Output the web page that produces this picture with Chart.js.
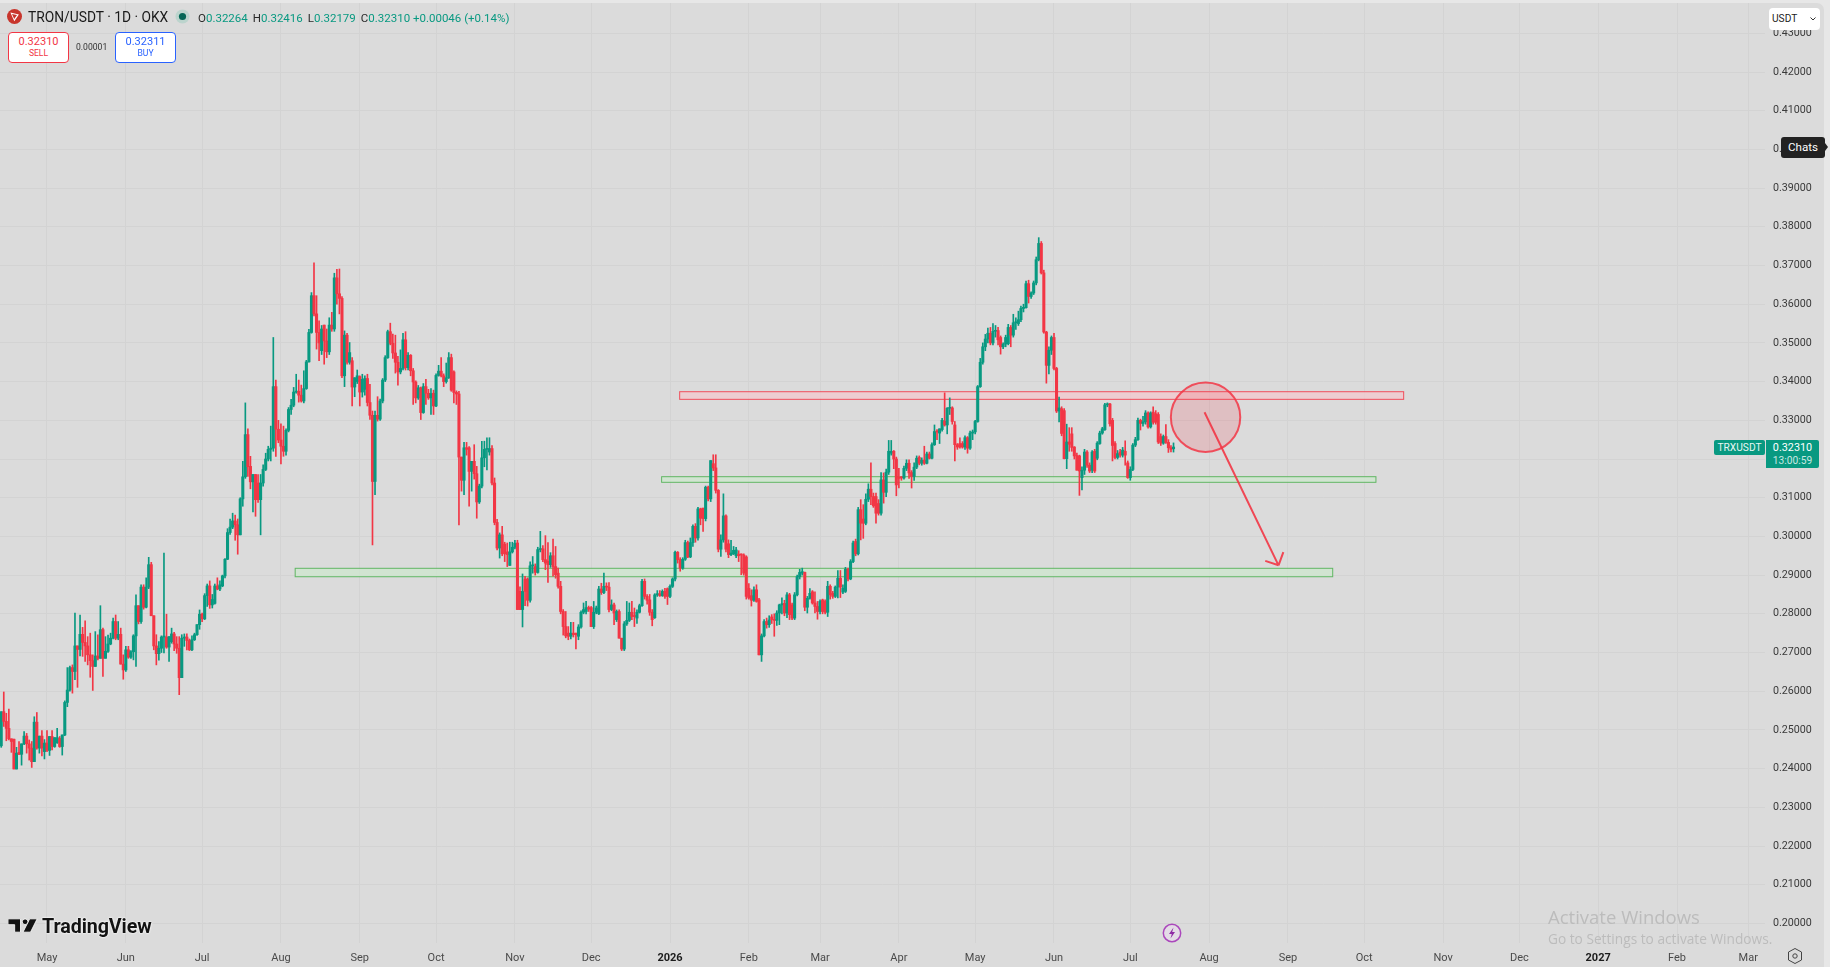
<!DOCTYPE html>
<html>
<head>
<meta charset="utf-8">
<title>TRON/USDT 1D</title>
<script src="https://cdn.jsdelivr.net/npm/chart.js@4"></script>
<style>
  html, body { margin:0; padding:0; width:1830px; height:967px; overflow:hidden; background:#e7e7e7; font-family:Roboto, sans-serif; }
  #pane { position:absolute; left:0; top:3px; width:1824px; height:964px; background:#dbdbdb; border-top-right-radius:7px; }
  #chart { position:absolute; left:0; top:0; }
  .abs { position:absolute; white-space:nowrap; }
  #title { left:28px; top:9px; font-size:13.8px; line-height:17px; color:#1a1a1a; }
  #ohlc { left:198px; top:10px; font-size:11.5px; line-height:16px; color:#089981; }
  #ohlc b { font-weight:400; color:#2a2a2a; margin-left:5px; }
  #ohlc b:first-child { margin-left:0; }
  .trade { width:59px; height:29px; top:32px; background:#fff; border-radius:4px; text-align:center; border:1px solid; box-sizing:content-box; }
  .trade span { display:block; }
  .trade .px { font-size:11px; line-height:13px; margin-top:2px; }
  .trade .lb { font-size:8.6px; line-height:11px; }
  #sell { left:8px; border-color:#f23645; color:#f23645; }
  #buy { left:115px; border-color:#2962ff; color:#2962ff; }
  #spread { left:76px; top:41px; font-size:8.6px; line-height:12px; color:#333; }
  #usdt { left:1769px; top:8px; width:51px; height:22px; background:#fff; border-radius:4px; font-size:10.2px; line-height:22px; color:#222; text-indent:3px; }
  #chats { left:1781px; top:137px; width:44px; height:21px; background:#222; border-radius:3px; color:#fff; font-size:11.6px; line-height:21px; text-align:center; }
  #chats i { position:absolute; left:44px; top:6px; border-left:3px solid #222; border-top:4px solid transparent; border-bottom:4px solid transparent; }
  #sym { left:1714px; top:440px; width:51px; height:15px; background:#089981; border-radius:2px; color:#e8f6f3; font-size:10.2px; line-height:15px; text-align:center; }
  #last { left:1766px; top:440px; width:53px; height:28px; background:#089981; border-radius:0 2px 2px 0; color:#fff; text-align:center; }
  #last span { display:block; }
  #last .p { font-size:10.8px; line-height:14px; margin-top:1px; }
  #last .t { font-size:10.2px; line-height:12px; color:#c9e8e1; }
  #brand { left:42px; top:916px; font-size:19.7px; line-height:22px; font-weight:700; color:#131313; letter-spacing:-.1px; text-shadow:0 0 2px #fff, 0 0 2px #fff; }
  #win1 { left:1548px; top:905px; font-size:18.5px; line-height:23px; color:#bcbcbc; font-family:"Open Sans", sans-serif; }
  #win2 { left:1548px; top:930px; font-size:13.7px; line-height:18px; color:#bcbcbc; font-family:"Open Sans", sans-serif; }
</style>
</head>
<body>
<div id="pane"></div>
<canvas id="chart" width="1830" height="967"></canvas>

<svg class="abs" style="left:7px;top:9px" width="15" height="15" viewBox="0 0 15 15">
  <circle cx="7.5" cy="7.5" r="7.5" fill="#c8352c"/>
  <path d="M3.4 3.6 L11.9 5.4 L7.3 12.2 Z M5 5 L7.2 9.9 L10 5.9 Z" fill="#fff" fill-rule="evenodd"/>
</svg>
<div class="abs" id="title">TRON/USDT · 1D · OKX</div>
<svg class="abs" style="left:175px;top:9px" width="15" height="15" viewBox="0 0 15 15">
  <circle cx="7.5" cy="7.5" r="7" fill="#bcd4cd"/>
  <circle cx="7.5" cy="7.5" r="3.6" fill="#056656"/>
</svg>
<div class="abs" id="ohlc"></div>
<div class="abs trade" id="sell"><span class="px" id="sellPx"></span><span class="lb">SELL</span></div>
<div class="abs" id="spread">0.00001</div>
<div class="abs trade" id="buy"><span class="px">0.32311</span><span class="lb">BUY</span></div>

<div class="abs" id="usdt">USDT
  <svg style="position:absolute;left:41px;top:9px" width="6" height="4" viewBox="0 0 6 4"><path d="M.5 .5 L3 3 L5.5 .5" fill="none" stroke="#333"/></svg>
</div>
<div class="abs" id="chats">Chats<i></i></div>
<div class="abs" id="sym">TRXUSDT</div>
<div class="abs" id="last"><span class="p" id="lastPx"></span><span class="t">13:00:59</span></div>

<svg class="abs" style="left:8px;top:917px" width="30" height="17" viewBox="0 0 36 20">
  <path d="M0 2 H15 V18 H8 V9 H0 Z M26 2 H35 L27 18 H18 Z" fill="#131313" stroke="#fff" stroke-width="1"/>
  <circle cx="20.5" cy="5.5" r="3.4" fill="#131313" stroke="#fff" stroke-width="1"/>
</svg>
<div class="abs" id="brand">TradingView</div>

<svg class="abs" style="left:1162px;top:923px" width="20" height="20" viewBox="0 0 20 20">
  <circle cx="10" cy="10" r="8.7" fill="#e4dbe6" stroke="#ab47bc" stroke-width="1.5"/>
  <path d="M11.5 4.5 L7 11 H9.8 L8.5 15.5 L13 9 H10.2 Z" fill="#8e2aa5"/>
</svg>
<svg class="abs" style="left:1787px;top:947px" width="16" height="18" viewBox="0 0 16 18">
  <path d="M8 1.5 L14.5 5 V13 L8 16.5 L1.5 13 V5 Z" fill="none" stroke="#444" stroke-width="1"/>
  <circle cx="8" cy="9" r="2.2" fill="none" stroke="#444"/>
</svg>
<div class="abs" id="win1">Activate Windows</div>
<div class="abs" id="win2">Go to Settings to activate Windows.</div>

<script>
// Daily candles, first one sits 18 days before the May 2025 tick
const firstDay = -18;

const opens = [
  .2459,.2547,.2522,.2504,.2477,.2476,.2399,.2442,.2437,.2464,
  .2484,.2464,.2453,.2418,.2520,.2453,.2484,.2444,.2466,.2447,
  .2483,.2457,.2467,.2478,.2457,.2487,.2571,.2603,.2661,.2651,
  .2717,.2708,.2747,.2726,.2717,.2694,.2679,.2664,.2691,.2685,
  .2759,.2685,.2703,.2722,.2737,.2780,.2737,.2747,.2670,.2655,
  .2707,.2688,.2702,.2743,.2821,.2780,.2869,.2817,.2869,.2927,
  .2795,.2717,.2697,.2711,.2740,.2740,.2714,.2728,.2748,.2722,
  .2711,.2635,.2737,.2740,.2731,.2707,.2733,.2746,.2772,.2799,
  .2787,.2847,.2872,.2823,.2827,.2872,.2864,.2872,.2898,.2941,
  .3010,.3024,.3040,.3030,.3004,.3097,.3154,.3263,.3181,.3141,
  .3160,.3138,.3095,.3138,.3173,.3200,.3225,.3228,.3387,.3277,
  .3249,.3233,.3220,.3274,.3328,.3339,.3373,.3375,.3365,.3350,
  .3382,.3451,.3527,.3622,.3575,.3527,.3480,.3546,.3505,.3477,
  .3546,.3536,.3668,.3627,.3615,.3415,.3520,.3450,.3454,.3386,
  .3400,.3413,.3373,.3380,.3408,.3346,.3313,.3142,.3313,.3303,
  .3350,.3404,.3462,.3529,.3499,.3474,.3450,.3425,.3434,.3508,
  .3436,.3468,.3428,.3399,.3358,.3384,.3320,.3387,.3370,.3358,
  .3370,.3337,.3416,.3427,.3415,.3400,.3410,.3462,.3425,.3372,
  .3368,.3205,.3145,.3229,.3229,.3168,.3194,.3162,.3089,.3130,
  .3203,.3225,.3218,.3227,.3138,.3036,.2970,.3004,.2980,.2960,
  .2925,.2960,.2972,.2983,.2858,.2811,.2890,.2890,.2835,.2924,
  .2922,.2907,.2966,.2968,.2940,.2936,.2927,.2950,.2922,.2905,
  .2871,.2806,.2767,.2750,.2742,.2750,.2750,.2742,.2766,.2804,
  .2806,.2816,.2816,.2767,.2804,.2800,.2864,.2855,.2871,.2869,
  .2811,.2823,.2785,.2806,.2737,.2709,.2774,.2783,.2804,.2795,
  .2789,.2804,.2821,.2884,.2845,.2836,.2804,.2790,.2849,.2852,
  .2847,.2858,.2865,.2845,.2871,.2890,.2959,.2940,.2918,.2941,
  .2984,.2947,.2984,.3026,.2996,.3071,.3073,.3046,.3127,.3097,
  .3188,.3177,.3119,.2967,.2991,.3053,.2981,.2953,.2955,.2950,
  .2954,.2953,.2952,.2947,.2866,.2847,.2835,.2862,.2836,.2694,
  .2743,.2780,.2772,.2792,.2785,.2783,.2802,.2823,.2827,.2802,
  .2849,.2823,.2789,.2849,.2896,.2905,.2907,.2817,.2840,.2857,
  .2828,.2819,.2806,.2836,.2832,.2804,.2871,.2853,.2845,.2869,
  .2892,.2856,.2858,.2915,.2890,.2935,.2987,.2955,.3069,.3045,
  .3034,.3096,.3122,.3103,.3103,.3085,.3060,.3146,.3114,.3166,
  .3215,.3220,.3200,.3153,.3153,.3151,.3176,.3189,.3165,.3155,
  .3179,.3204,.3189,.3197,.3189,.3213,.3202,.3237,.3271,.3267,
  .3276,.3298,.3288,.3331,.3332,.3288,.3237,.3240,.3240,.3231,
  .3255,.3228,.3267,.3270,.3297,.3387,.3450,.3490,.3510,.3525,
  .3500,.3530,.3532,.3514,.3490,.3497,.3498,.3540,.3520,.3552,
  .3550,.3560,.3589,.3591,.3653,.3620,.3629,.3655,.3715,.3757,
  .3681,.3528,.3442,.3481,.3514,.3434,.3324,.3330,.3325,.3201,
  .3244,.3265,.3231,.3209,.3208,.3152,.3171,.3218,.3184,.3171,
  .3220,.3202,.3240,.3267,.3276,.3340,.3342,.3300,.3240,.3204,
  .3218,.3210,.3220,.3190,.3152,.3173,.3236,.3250,.3300,.3292,
  .3296,.3319,.3283,.3321,.3317,.3315,.3258,.3241,.3258,.3243,
  .3229,.32264
];

const highs = [
  .2547,.2598,.2543,.2554,.2477,.2476,.2455,.2470,.2464,.2496,
  .2491,.2474,.2470,.2534,.2545,.2484,.2498,.2475,.2498,.2483,
  .2498,.2480,.2504,.2483,.2487,.2575,.2661,.2665,.2668,.2802,
  .2717,.2797,.2765,.2782,.2741,.2750,.2694,.2754,.2746,.2821,
  .2763,.2741,.2745,.2750,.2789,.2797,.2780,.2763,.2694,.2716,
  .2716,.2705,.2746,.2849,.2821,.2875,.2875,.2893,.2946,.2933,
  .2795,.2746,.2728,.2743,.2957,.2799,.2741,.2763,.2752,.2741,
  .2741,.2746,.2748,.2748,.2735,.2743,.2750,.2772,.2810,.2802,
  .2852,.2877,.2885,.2850,.2877,.2893,.2885,.2900,.2943,.3020,
  .3045,.3060,.3055,.3045,.3100,.3194,.3345,.3278,.3207,.3160,
  .3160,.3160,.3160,.3185,.3215,.3233,.3285,.3514,.3404,.3300,
  .3291,.3285,.3278,.3333,.3354,.3385,.3419,.3404,.3391,.3428,
  .3455,.3535,.3630,.3707,.3622,.3557,.3545,.3546,.3536,.3565,
  .3579,.3680,.3690,.3691,.3620,.3531,.3525,.3501,.3462,.3410,
  .3430,.3415,.3419,.3415,.3419,.3393,.3324,.3324,.3361,.3355,
  .3408,.3467,.3533,.3551,.3523,.3520,.3465,.3482,.3525,.3529,
  .3475,.3470,.3434,.3402,.3390,.3386,.3395,.3406,.3380,.3382,
  .3378,.3420,.3442,.3462,.3420,.3448,.3475,.3471,.3428,.3376,
  .3375,.3205,.3243,.3243,.3232,.3194,.3237,.3181,.3135,.3246,
  .3246,.3255,.3255,.3235,.3151,.3044,.3009,.3026,.2985,.2983,
  .2985,.2985,.2990,.2990,.2870,.2903,.2897,.2893,.2934,.2948,
  .2929,.2972,.3013,.2976,.3002,.2984,.2958,.2993,.2974,.2918,
  .2884,.2811,.2806,.2767,.2778,.2778,.2750,.2772,.2808,.2828,
  .2832,.2820,.2819,.2832,.2820,.2871,.2879,.2905,.2880,.2881,
  .2836,.2828,.2810,.2810,.2737,.2780,.2832,.2828,.2832,.2815,
  .2810,.2825,.2889,.2890,.2850,.2850,.2811,.2852,.2860,.2860,
  .2862,.2866,.2867,.2875,.2893,.2962,.2961,.2945,.2945,.2990,
  .2988,.2996,.3030,.3033,.3075,.3073,.3073,.3130,.3130,.3196,
  .3211,.3211,.3121,.3004,.3110,.3056,.2991,.2990,.2974,.2972,
  .2963,.2955,.2955,.2950,.2878,.2862,.2870,.2875,.2840,.2748,
  .2785,.2789,.2795,.2798,.2800,.2808,.2825,.2841,.2835,.2855,
  .2853,.2828,.2855,.2900,.2915,.2918,.2908,.2845,.2865,.2860,
  .2857,.2832,.2836,.2838,.2836,.2884,.2875,.2858,.2872,.2912,
  .2912,.2875,.2920,.2918,.2940,.2988,.2993,.3075,.3095,.3082,
  .3110,.3136,.3190,.3112,.3112,.3095,.3165,.3164,.3174,.3248,
  .3248,.3222,.3205,.3176,.3155,.3182,.3198,.3198,.3170,.3190,
  .3208,.3208,.3203,.3233,.3218,.3218,.3242,.3288,.3276,.3278,
  .3305,.3371,.3333,.3358,.3335,.3297,.3240,.3255,.3245,.3260,
  .3258,.3272,.3275,.3300,.3390,.3460,.3500,.3522,.3538,.3540,
  .3550,.3545,.3540,.3518,.3500,.3520,.3548,.3545,.3574,.3565,
  .3582,.3595,.3600,.3660,.3662,.3632,.3660,.3722,.3772,.3762,
  .3688,.3530,.3490,.3518,.3525,.3437,.3360,.3335,.3330,.3290,
  .3281,.3281,.3232,.3215,.3210,.3180,.3225,.3222,.3190,.3222,
  .3225,.3245,.3272,.3282,.3344,.3345,.3344,.3305,.3245,.3222,
  .3225,.3230,.3247,.3195,.3180,.3240,.3256,.3306,.3303,.3310,
  .3325,.3322,.3322,.3335,.3325,.3320,.3265,.3262,.3289,.3250,
  .3235,.32416
];

const lows = [
  .2455,.2509,.2472,.2474,.2442,.2399,.2399,.2436,.2409,.2462,
  .2440,.2422,.2403,.2418,.2450,.2440,.2433,.2425,.2444,.2434,
  .2448,.2455,.2465,.2455,.2435,.2485,.2560,.2600,.2595,.2630,
  .2610,.2691,.2690,.2677,.2668,.2636,.2602,.2664,.2681,.2685,
  .2638,.2685,.2700,.2720,.2735,.2733,.2733,.2670,.2631,.2651,
  .2685,.2685,.2681,.2664,.2774,.2775,.2812,.2815,.2865,.2795,
  .2707,.2668,.2680,.2700,.2699,.2711,.2677,.2724,.2705,.2698,
  .2591,.2635,.2716,.2707,.2705,.2705,.2731,.2744,.2760,.2780,
  .2785,.2819,.2814,.2815,.2825,.2862,.2860,.2870,.2893,.2940,
  .3005,.3020,.2990,.2954,.3004,.3078,.3150,.3155,.3123,.3063,
  .3052,.3088,.3004,.3130,.3170,.3195,.3195,.3220,.3207,.3242,
  .3187,.3207,.3210,.3270,.3315,.3335,.3370,.3347,.3347,.3345,
  .3380,.3450,.3525,.3570,.3484,.3454,.3470,.3445,.3462,.3470,
  .3530,.3530,.3600,.3575,.3410,.3387,.3445,.3445,.3337,.3361,
  .3395,.3337,.3360,.3365,.3337,.3302,.2978,.3108,.3298,.3300,
  .3345,.3400,.3460,.3495,.3460,.3422,.3391,.3420,.3430,.3430,
  .3430,.3415,.3341,.3345,.3354,.3302,.3318,.3341,.3354,.3315,
  .3315,.3335,.3414,.3412,.3387,.3396,.3408,.3375,.3345,.3341,
  .3030,.3117,.3108,.3210,.3078,.3117,.3148,.3047,.3085,.3125,
  .3180,.3172,.3210,.3133,.3030,.2965,.2944,.2950,.2935,.2922,
  .2925,.2957,.2968,.2811,.2811,.2766,.2821,.2820,.2830,.2905,
  .2900,.2905,.2960,.2935,.2914,.2881,.2920,.2897,.2892,.2866,
  .2800,.2745,.2738,.2733,.2735,.2740,.2709,.2733,.2763,.2800,
  .2800,.2806,.2767,.2762,.2800,.2798,.2850,.2852,.2860,.2805,
  .2808,.2772,.2780,.2737,.2705,.2705,.2770,.2780,.2785,.2767,
  .2775,.2802,.2819,.2838,.2825,.2796,.2769,.2788,.2845,.2845,
  .2845,.2840,.2824,.2842,.2868,.2885,.2931,.2910,.2915,.2938,
  .2945,.2945,.2974,.2985,.2990,.3030,.3013,.3040,.3092,.3090,
  .3170,.3112,.2960,.2948,.2985,.2960,.2945,.2950,.2953,.2945,
  .2935,.2901,.2900,.2838,.2838,.2820,.2832,.2830,.2694,.2677,
  .2740,.2763,.2765,.2775,.2742,.2770,.2772,.2800,.2795,.2790,
  .2785,.2785,.2785,.2846,.2890,.2900,.2808,.2802,.2838,.2825,
  .2802,.2786,.2800,.2800,.2800,.2793,.2838,.2840,.2842,.2841,
  .2842,.2852,.2855,.2885,.2888,.2932,.2950,.2952,.2991,.2995,
  .3030,.3090,.3082,.3075,.3034,.3055,.3055,.3086,.3103,.3160,
  .3210,.3175,.3105,.3125,.3145,.3148,.3170,.3150,.3125,.3145,
  .3175,.3185,.3184,.3186,.3187,.3200,.3200,.3235,.3250,.3240,
  .3272,.3285,.3265,.3315,.3290,.3195,.3225,.3228,.3228,.3225,
  .3215,.3225,.3250,.3265,.3295,.3385,.3445,.3480,.3500,.3495,
  .3495,.3515,.3495,.3471,.3485,.3490,.3495,.3490,.3515,.3535,
  .3545,.3555,.3580,.3590,.3603,.3615,.3625,.3650,.3712,.3678,
  .3525,.3396,.3420,.3470,.3430,.3320,.3296,.3260,.3200,.3175,
  .3220,.3220,.3200,.3171,.3106,.3120,.3160,.3178,.3165,.3165,
  .3165,.3198,.3238,.3264,.3274,.3335,.3285,.3195,.3200,.3200,
  .3205,.3205,.3184,.3150,.3145,.3170,.3232,.3248,.3275,.3285,
  .3290,.3280,.3280,.3290,.3290,.3240,.3235,.3238,.3240,.3217,
  .3218,.32179
];

const closes = [
  .2547,.2522,.2504,.2477,.2470,.2399,.2440,.2437,.2464,.2484,
  .2464,.2453,.2418,.2520,.2453,.2484,.2453,.2466,.2447,.2483,
  .2457,.2480,.2480,.2457,.2487,.2571,.2603,.2661,.2651,.2717,
  .2708,.2747,.2726,.2717,.2694,.2679,.2664,.2691,.2685,.2759,
  .2685,.2703,.2722,.2737,.2780,.2737,.2747,.2670,.2655,.2707,
  .2688,.2702,.2743,.2821,.2780,.2869,.2817,.2869,.2927,.2795,
  .2717,.2697,.2711,.2740,.2741,.2714,.2741,.2748,.2722,.2711,
  .2635,.2737,.2740,.2731,.2707,.2733,.2746,.2772,.2799,.2787,
  .2847,.2872,.2823,.2837,.2872,.2864,.2875,.2898,.2941,.3010,
  .3024,.3040,.3030,.3004,.3097,.3154,.3263,.3180,.3141,.3160,
  .3095,.3095,.3138,.3173,.3200,.3225,.3228,.3387,.3277,.3249,
  .3233,.3220,.3274,.3328,.3339,.3373,.3375,.3365,.3350,.3382,
  .3451,.3527,.3622,.3575,.3527,.3500,.3536,.3505,.3477,.3546,
  .3536,.3668,.3627,.3615,.3415,.3520,.3450,.3475,.3386,.3410,
  .3415,.3373,.3406,.3408,.3346,.3313,.3142,.3313,.3303,.3350,
  .3404,.3462,.3529,.3499,.3474,.3450,.3425,.3434,.3508,.3436,
  .3468,.3428,.3399,.3358,.3384,.3320,.3387,.3370,.3358,.3369,
  .3337,.3416,.3427,.3415,.3400,.3410,.3462,.3378,.3372,.3368,
  .3205,.3145,.3229,.3225,.3168,.3194,.3162,.3089,.3130,.3203,
  .3225,.3227,.3227,.3138,.3036,.2970,.3004,.2955,.2955,.2953,
  .2960,.2972,.2982,.2811,.2811,.2858,.2858,.2835,.2924,.2925,
  .2907,.2966,.2968,.2940,.2931,.2927,.2950,.2922,.2901,.2871,
  .2806,.2767,.2743,.2742,.2750,.2746,.2746,.2766,.2804,.2811,
  .2816,.2812,.2767,.2804,.2815,.2864,.2855,.2871,.2869,.2811,
  .2823,.2802,.2806,.2737,.2709,.2774,.2783,.2804,.2793,.2793,
  .2804,.2821,.2884,.2845,.2835,.2804,.2785,.2849,.2852,.2847,
  .2858,.2845,.2845,.2871,.2890,.2959,.2940,.2918,.2941,.2984,
  .2947,.2984,.3026,.2996,.3071,.3047,.3046,.3127,.3097,.3196,
  .3177,.3119,.2967,.2991,.3053,.2967,.2953,.2957,.2964,.2965,
  .2950,.2952,.2905,.2845,.2841,.2835,.2862,.2832,.2694,.2743,
  .2780,.2772,.2784,.2785,.2783,.2802,.2823,.2826,.2802,.2849,
  .2798,.2789,.2849,.2896,.2907,.2909,.2817,.2840,.2853,.2828,
  .2819,.2806,.2832,.2806,.2804,.2871,.2849,.2845,.2869,.2892,
  .2869,.2866,.2915,.2890,.2935,.2983,.2955,.3069,.3034,.3034,
  .3096,.3122,.3103,.3079,.3060,.3060,.3146,.3114,.3166,.3220,
  .3220,.3200,.3133,.3150,.3151,.3176,.3189,.3164,.3155,.3179,
  .3202,.3189,.3197,.3189,.3213,.3202,.3237,.3271,.3270,.3278,
  .3300,.3288,.3331,.3332,.3297,.3237,.3231,.3231,.3231,.3255,
  .3228,.3267,.3270,.3297,.3387,.3450,.3490,.3510,.3525,.3500,
  .3530,.3532,.3508,.3490,.3497,.3514,.3540,.3520,.3552,.3554,
  .3560,.3589,.3592,.3653,.3620,.3629,.3655,.3715,.3757,.3681,
  .3528,.3442,.3481,.3514,.3434,.3324,.3332,.3266,.3201,.3244,
  .3238,.3230,.3208,.3171,.3169,.3171,.3218,.3184,.3169,.3218,
  .3169,.3241,.3267,.3278,.3340,.3342,.3291,.3235,.3204,.3214,
  .3210,.3223,.3210,.3152,.3173,.3236,.3250,.3300,.3292,.3296,
  .3319,.3283,.3319,.3295,.3295,.3244,.3241,.3258,.3243,.3229,
  .3225,.32310
];

// Time axis: day number of each month start, counted from 1 May 2025
const monthLabels = ['May','Jun','Jul','Aug','Sep','Oct','Nov','Dec','2026','Feb','Mar','Apr','May','Jun','Jul','Aug','Sep','Oct','Nov','Dec','2027','Feb','Mar'];
const monthDays   = [0,31,61,92,123,153,184,214,245,276,304,335,365,396,426,457,488,518,549,579,610,641,669];
const priceTicks  = [.20,.21,.22,.23,.24,.25,.26,.27,.28,.29,.30,.31,.32,.33,.34,.35,.36,.37,.38,.39,.40,.41,.42,.43];

// Drawn zones, top to bottom on screen
const zoneStartDays = [248.8, 241.7, 97.6];
const zoneEndDays   = [533.5, 522.6, 505.6];
const zoneTops      = [.33739, .31543, .29176];
const zoneBottoms   = [.33542, .31398, .28958];
const zoneStrokes   = ['rgba(242,54,69,.85)', 'rgba(76,175,80,.85)', 'rgba(76,175,80,.85)'];
const zoneFills     = ['rgba(245,200,205,.7)', 'rgba(205,232,205,.7)', 'rgba(205,232,205,.7)'];

// Circle and arrow drawn on the chart
const circleDay = 455.6, circlePrice = .33078;
const arrowDays = [455.2, 484.3], arrowPrices = [.33207, .29253];

const UP = '#089981', DOWN = '#f23645';

const fmt = v => v.toFixed(5);
const lastI = closes.length - 1;
const candleColors = closes.map((c, i) => c >= opens[i] ? UP : DOWN);
const dayOf = i => firstDay + i;
const isYear = c => !!c.tick && /^20/.test(String(c.tick.label));

// Header and last-price labels come from the final candle
document.getElementById('ohlc').innerHTML =
  `<b>O</b>${fmt(opens[lastI])}<b>H</b>${fmt(highs[lastI])}<b>L</b>${fmt(lows[lastI])}<b>C</b>${fmt(closes[lastI])} +0.00046 (+0.14%)`;
document.getElementById('sellPx').textContent = fmt(closes[lastI]);
document.getElementById('lastPx').textContent = fmt(closes[lastI]);

/** Zones under the candles, circle and arrow over them */
const drawings = {
  id: 'drawings',
  beforeDatasetsDraw(chart) {
    const { ctx, scales: { x, y } } = chart;
    ctx.save();
    zoneStartDays.forEach((d, i) => {
      const x1 = x.getPixelForValue(d), x2 = x.getPixelForValue(zoneEndDays[i]);
      const y1 = y.getPixelForValue(zoneTops[i]), y2 = y.getPixelForValue(zoneBottoms[i]);
      ctx.fillStyle = zoneFills[i];
      ctx.strokeStyle = zoneStrokes[i];
      ctx.lineWidth = 1;
      ctx.fillRect(x1, y1, x2 - x1, y2 - y1);
      ctx.strokeRect(x1, y1, x2 - x1, y2 - y1);
    });
    ctx.restore();
  },
  afterDatasetsDraw(chart) {
    const { ctx, scales: { x, y } } = chart;
    ctx.save();
    ctx.beginPath();
    ctx.arc(x.getPixelForValue(circleDay), y.getPixelForValue(circlePrice), 34.7, 0, Math.PI * 2);
    ctx.fillStyle = 'rgba(242,54,69,.17)';
    ctx.strokeStyle = 'rgba(242,54,69,.85)';
    ctx.lineWidth = 2;
    ctx.fill();
    ctx.stroke();

    const ax = x.getPixelForValue(arrowDays[0]), ay = y.getPixelForValue(arrowPrices[0]);
    const bx = x.getPixelForValue(arrowDays[1]), by = y.getPixelForValue(arrowPrices[1]);
    const ang = Math.atan2(by - ay, bx - ax);
    ctx.beginPath();
    ctx.moveTo(ax, ay);
    ctx.lineTo(bx, by);
    [-0.8, 0.8].forEach(s => {
      ctx.moveTo(bx, by);
      ctx.lineTo(bx - 14 * Math.cos(ang + s), by - 14 * Math.sin(ang + s));
    });
    ctx.strokeStyle = 'rgba(242,54,69,.9)';
    ctx.lineWidth = 2;
    ctx.stroke();
    ctx.restore();
  },
};

new Chart(document.getElementById('chart'), {
  type: 'bar',
  data: {
    datasets: [
      {
        label: 'Body',
        data: closes.map((c, i) => ({ x: dayOf(i), y: [opens[i], c] })),
        backgroundColor: candleColors,
        barThickness: 2.4,
        minBarLength: 1,
        grouped: false,
        borderWidth: 0,
      },
      {
        label: 'Wick',
        data: highs.map((h, i) => ({ x: dayOf(i), y: [lows[i], h] })),
        backgroundColor: candleColors,
        barThickness: 1,
        grouped: false,
        borderWidth: 0,
      },
    ],
  },
  options: {
    responsive: false,
    animation: false,
    layout: { padding: { top: 3, left: 0, right: 0, bottom: 0 } },
    plugins: { legend: { display: false }, tooltip: { enabled: false } },
    scales: {
      x: {
        type: 'linear',
        position: 'bottom',
        offset: false,
        min: -18.48,
        max: 675.6,
        afterBuildTicks: s => { s.ticks = monthDays.map(value => ({ value })); },
        afterFit: s => { s.height = 24; s.paddingLeft = 0; s.paddingRight = 0; },
        grid: { color: '#d3d3d3', drawTicks: false, offset: false },
        border: { display: false },
        ticks: {
          autoSkip: false,
          maxRotation: 0,
          padding: 9,
          color: c => isYear(c) ? '#1c1c1c' : '#4a4a4a',
          font: c => ({ family: 'Roboto', size: 11, weight: isYear(c) ? '700' : '400' }),
          callback: (v, i) => monthLabels[i],
        },
      },
      y: {
        position: 'right',
        min: .19494,
        max: .43783,
        afterBuildTicks: s => { s.ticks = priceTicks.map(value => ({ value })); },
        afterFit: s => { s.width = 65; s.paddingTop = 0; s.paddingBottom = 0; },
        grid: { color: '#d3d3d3', drawTicks: false },
        border: { display: false },
        ticks: {
          autoSkip: false,
          padding: 8,
          color: '#3a3a3a',
          font: { family: 'Roboto', size: 10.7 },
          callback: v => fmt(v),
        },
      },
    },
  },
  plugins: [drawings],
});
</script>
</body>
</html>
